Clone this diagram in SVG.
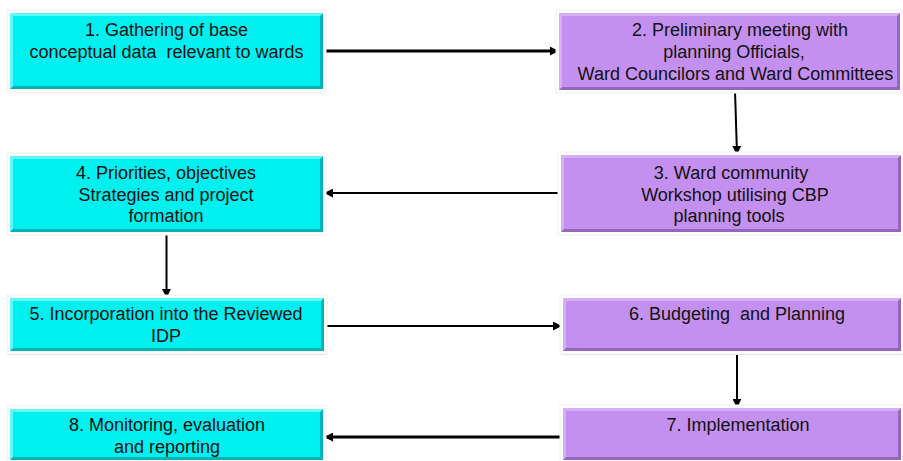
<svg xmlns="http://www.w3.org/2000/svg" width="903" height="461" viewBox="0 0 903 461" xml:space="preserve">
<defs>
<style>
.glow{fill:#ffffff;stroke:#f0f0f0;stroke-width:1}
.cy{fill:#00F0F0}
.cyd{fill:#00B4B8}
.cyl{fill:#60FAFA}
.pu{fill:#C490F0}
.pud{fill:#9466BC}
.pul{fill:#D6AEF8}
.t{font-family:"Liberation Sans",Arial,sans-serif;font-size:18px;fill:#111;text-anchor:middle;white-space:pre}
.c{stroke:#000;fill:none}
</style>
<marker id="ah" viewBox="0 0 10 10" refX="9" refY="5" markerWidth="9" markerHeight="9" markerUnits="userSpaceOnUse" orient="auto">
<path d="M0,0 L10,5 L0,10 z" fill="#000"/>
</marker>
</defs>
<rect width="903" height="461" fill="#fff"/>

<g id="connectors">
<line class="c" x1="325" y1="51" x2="558" y2="51" stroke-width="3" marker-end="url(#ah)"/>
<line class="c" x1="735" y1="91" x2="737" y2="154" stroke-width="2" marker-end="url(#ah)"/>
<line class="c" x1="560" y1="193" x2="325" y2="193" stroke-width="2" marker-end="url(#ah)"/>
<line class="c" x1="166.5" y1="233" x2="166.5" y2="297" stroke-width="2" marker-end="url(#ah)"/>
<line class="c" x1="324" y1="326" x2="561" y2="326" stroke-width="2" marker-end="url(#ah)"/>
<line class="c" x1="737" y1="352" x2="737" y2="407" stroke-width="2" marker-end="url(#ah)"/>
<line class="c" x1="561" y1="437" x2="325" y2="437" stroke-width="3" marker-end="url(#ah)"/>
</g>

<g id="n1">
<rect class="glow" x="7" y="10" width="319" height="82"/>
<rect class="cyd" x="10" y="13" width="313" height="76"/>
<polygon class="cyl" points="10,13 323,13 320,16 13,16 13,86 10,89"/>
<rect class="cy" x="13" y="16" width="307" height="70"/>
<text class="t" x="166.5" y="36">1. Gathering of base</text>
<text class="t" x="166.5" y="58">conceptual data  relevant to wards</text>
</g>

<g id="n2">
<rect class="glow" x="556" y="10" width="347" height="83"/>
<rect class="pud" x="559" y="13" width="341" height="77"/>
<polygon class="pul" points="559,13 900,13 897,16 562,16 562,87 559,90"/>
<rect class="pu" x="562" y="16" width="335" height="71"/>
<text class="t" x="740" y="36">2. Preliminary meeting with</text>
<text class="t" x="734" y="58">planning Officials,</text>
<text class="t" x="735.5" y="80">Ward Councilors and Ward Committees</text>
</g>

<g id="n3">
<rect class="glow" x="558" y="152" width="345" height="83"/>
<rect class="pud" x="561" y="155" width="340" height="77"/>
<polygon class="pul" points="561,155 901,155 898,158 564,158 564,229 561,232"/>
<rect class="pu" x="564" y="158" width="334" height="71"/>
<text class="t" x="731" y="179">3. Ward community</text>
<text class="t" x="735" y="201">Workshop utilising CBP</text>
<text class="t" x="729" y="222">planning tools</text>
</g>

<g id="n4">
<rect class="glow" x="7" y="153" width="319" height="82"/>
<rect class="cyd" x="10" y="156" width="313" height="76"/>
<polygon class="cyl" points="10,156 323,156 320,159 13,159 13,229 10,232"/>
<rect class="cy" x="13" y="159" width="307" height="70"/>
<text class="t" x="166" y="179">4. Priorities, objectives</text>
<text class="t" x="166" y="201">Strategies and project</text>
<text class="t" x="166" y="222">formation</text>
</g>

<g id="n5">
<rect x="9" y="299" width="318" height="56" fill="#dcdcdc"/>
<rect class="glow" x="7" y="295" width="320" height="59"/>
<rect class="cyd" x="10" y="298" width="314" height="53"/>
<polygon class="cyl" points="10,298 324,298 321,301 13,301 13,348 10,351"/>
<rect class="cy" x="13" y="301" width="308" height="47"/>
<text class="t" x="166" y="320">5. Incorporation into the Reviewed</text>
<text class="t" x="166" y="342">IDP</text>
</g>

<g id="n6">
<rect x="562" y="299" width="341" height="56" fill="#dcdcdc"/>
<rect class="glow" x="560" y="295" width="343" height="59"/>
<rect class="pud" x="563" y="298" width="338" height="53"/>
<polygon class="pul" points="563,298 901,298 898,301 566,301 566,348 563,351"/>
<rect class="pu" x="566" y="301" width="332" height="47"/>
<text class="t" x="737" y="320">6. Budgeting  and Planning</text>
</g>

<g id="n7">
<rect class="glow" x="560" y="405" width="343" height="58"/>
<rect class="pud" x="563" y="408" width="338" height="52"/>
<polygon class="pul" points="563,408 901,408 898,411 566,411 566,457 563,460"/>
<rect class="pu" x="566" y="411" width="332" height="46"/>
<text class="t" x="738" y="431">7. Implementation</text>
</g>

<g id="n8">
<rect class="glow" x="7" y="406" width="319" height="57"/>
<rect class="cyd" x="10" y="409" width="313" height="51"/>
<polygon class="cyl" points="10,409 323,409 320,412 13,412 13,457 10,460"/>
<rect class="cy" x="13" y="412" width="307" height="45"/>
<text class="t" x="167" y="431">8. Monitoring, evaluation</text>
<text class="t" x="167" y="453">and reporting</text>
</g>
</svg>
